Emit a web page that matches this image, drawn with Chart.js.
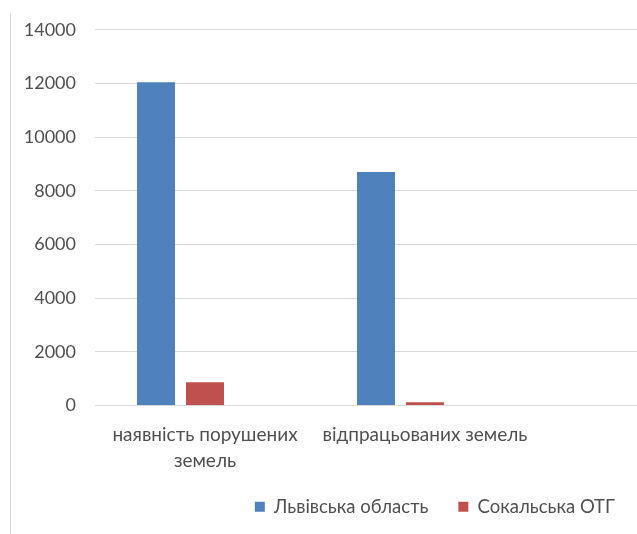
<!DOCTYPE html>
<html>
<head>
<meta charset="utf-8">
<script src="https://cdn.jsdelivr.net/npm/chart.js@4/dist/chart.umd.min.js"></script>
<style>
  body { margin: 0; background: #fff; }
  #wrap { position: relative; width: 637px; height: 534px; overflow: hidden; }
  #frame { position: absolute; left: 10px; top: 13px; bottom: 0; border-left: 1px solid #d9d9d9; }
  #box { position: absolute; left: 0; top: 0; width: 645px; height: 534px; }
</style>
</head>
<body>
<div id="wrap">
  <div id="frame"></div>
  <div id="box"><canvas id="chart"></canvas></div>
</div>
<script>
// Категорії та значення
const kategorii = [['наявність порушених', 'земель'], ['відпрацьованих земель']];
const lvivska = [12050, 8700];
const sokalska = [870, 120];
const tretia = [null, null]; // порожній ряд, у легенді не показується
const yTicks = [0, 2000, 4000, 6000, 8000, 10000, 12000, 14000];

const toXY = arr => arr.map((v, i) => ({ x: i, y: v }));
const font = 'Lato, "Liberation Sans", sans-serif';
const textColor = '#505050';

new Chart(document.getElementById('chart'), {
  type: 'bar',
  data: {
    datasets: [
      { label: 'Львівська область', data: toXY(lvivska), backgroundColor: '#4f81bd' },
      { label: 'Сокальська ОТГ', data: toXY(sokalska), backgroundColor: '#c0504d' },
      { label: '', data: toXY(tretia), backgroundColor: 'transparent' }
    ]
  },
  options: {
    responsive: true,
    maintainAspectRatio: false,
    animation: false,
    categoryPercentage: 0.668,
    barPercentage: 0.7755,
    layout: { padding: { top: 23, bottom: 8 } },
    scales: {
      x: {
        type: 'linear',
        offset: false,
        min: -0.5,
        max: 2,
        grid: { display: false, offset: false },
        border: { display: false },
        afterBuildTicks: s => { s.ticks = s.ticks.filter(t => Number.isInteger(t.value)); },
        afterFit: s => { s.height = 62; s.paddingLeft = 0; s.paddingRight = 0; },
        ticks: {
          stepSize: 1,
          autoSkip: false,
          maxRotation: 0,
          padding: 8,
          color: textColor,
          font: { family: font, size: 19, lineHeight: 1.37 },
          callback: v => kategorii[v] || ''
        }
      },
      y: {
        min: 0,
        max: 14000,
        afterFit: s => { s.width = 95; },
        afterBuildTicks: s => { s.ticks = yTicks.map(v => ({ value: v })); },
        grid: { color: '#d9d9d9', drawTicks: false },
        border: { display: false },
        ticks: {
          padding: 19,
          color: textColor,
          font: { family: font, size: 18 },
          callback: v => String(v)
        }
      }
    },
    plugins: {
      tooltip: { enabled: false },
      legend: {
        position: 'bottom',
        align: 'end',
        labels: {
          boxWidth: 10,
          boxHeight: 10,
          padding: 30,
          color: textColor,
          font: { family: font, size: 18.5 },
          filter: item => item.text !== ''
        }
      }
    }
  }
});
</script>
</body>
</html>
